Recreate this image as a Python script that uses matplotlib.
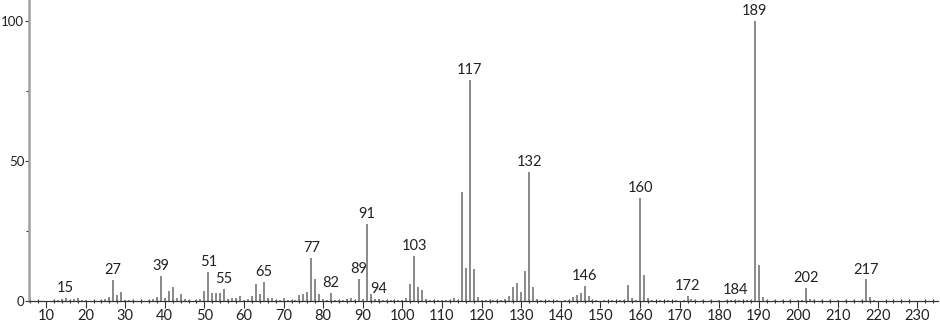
import matplotlib
matplotlib.use("Agg")
import matplotlib.pyplot as plt
from matplotlib.ticker import MultipleLocator, FixedLocator

plt.rcParams['font.family'] = ['Lato', 'DejaVu Sans']

# m/z values and relative intensities (%)
mz = [12, 13, 14, 15, 16, 17, 18, 19, 20, 24, 25, 26, 27, 28, 29, 30, 31, 32,
      36, 37, 38, 39, 40, 41, 42, 43, 44, 45, 46, 48, 49, 50, 51, 52, 53, 54,
      55, 56, 57, 58, 59, 60, 61, 62, 63, 64, 65, 66, 67, 68, 69, 70, 71, 72,
      73, 74, 75, 76, 77, 78, 79, 80, 81, 82, 83, 84, 85, 86, 87, 88, 89, 90,
      91, 92, 93, 94, 95, 96, 97, 98, 99, 100, 101, 102, 103, 104, 105, 106,
      107, 108, 109, 110, 111, 112, 113, 114, 115, 116, 117, 118, 119, 120,
      121, 122, 123, 124, 125, 126, 127, 128, 129, 130, 131, 132, 133, 134,
      135, 137, 139, 141, 142, 143, 144, 145, 146, 147, 148, 149, 151, 153,
      155, 156, 157, 158, 159, 160, 161, 162, 163, 165, 167, 169, 171, 172,
      173, 174, 176, 178, 180, 182, 183, 184, 185, 187, 188, 189, 190, 191,
      192, 194, 196, 198, 200, 201, 202, 203, 204, 206, 208, 210, 212, 214,
      216, 217, 218, 219]
intensity = [0.4, 0.5, 0.8, 1.0, 0.4, 0.6, 0.9, 0.3, 0.3, 0.4, 0.8, 1.5, 7.5, 2.3, 3.2, 0.4, 0.3, 0.5,
             0.4, 0.8, 1.3, 8.9, 1.1, 3.6, 5.1, 1.1, 2.5, 0.6, 0.3, 0.3, 0.8, 3.6, 10.5, 3.0, 3.0, 3.0,
             4.3, 0.8, 1.0, 1.0, 1.9, 0.4, 0.6, 1.9, 6.0, 2.4, 6.8, 1.0, 1.2, 0.4, 0.5, 1.2, 0.4, 0.3,
             0.5, 2.1, 2.4, 3.3, 15.5, 8.0, 2.4, 0.6, 0.5, 3.0, 0.5, 0.4, 0.5, 0.6, 1.2, 0.4, 8.0, 0.6,
             27.6, 2.5, 0.6, 0.8, 0.4, 0.4, 0.4, 0.3, 0.4, 0.4, 1.0, 6.2, 16.0, 5.0, 4.0, 0.6,
             0.5, 0.4, 0.4, 0.4, 0.4, 0.5, 1.0, 0.5, 39.0, 11.8, 79.0, 11.5, 1.5, 0.5,
             0.5, 0.4, 0.4, 0.4, 0.4, 0.6, 1.8, 5.0, 6.5, 3.3, 10.8, 46.2, 5.0, 0.6,
             0.3, 0.3, 0.3, 0.3, 0.5, 1.5, 2.1, 3.0, 5.4, 1.8, 0.5, 0.3, 0.3, 0.3,
             0.3, 0.4, 5.7, 1.2, 0.4, 36.7, 9.3, 1.0, 0.4, 0.3, 0.3, 0.3, 0.5, 1.8,
             0.6, 0.3, 0.3, 0.3, 0.3, 0.3, 0.3, 0.5, 0.3, 0.3, 0.4, 100.0, 12.9, 1.5,
             0.4, 0.3, 0.3, 0.3, 0.3, 0.4, 4.8, 0.6, 0.3, 0.3, 0.3, 0.3, 0.3, 0.3,
             0.4, 7.7, 1.3, 0.4]

labeled_mz = [15, 27, 39, 51, 55, 65, 77, 82, 89, 91, 94, 103, 117, 132, 146,
              160, 172, 184, 189, 202, 217]

y_ticks = [0, 50, 100]
x_ticks = list(range(10, 231, 10))

W, H = 940, 323
fig = plt.figure(figsize=(W / 100, H / 100), dpi=100)
ax = fig.add_axes([29 / W, 22 / H, (938 - 29) / W, 301 / H])

ax.vlines(mz, 0, intensity, colors='#808080', linewidth=1.3)

lookup = dict(zip(mz, intensity))
for m in labeled_mz:
    ax.annotate(str(m), xy=(m, lookup[m]), xytext=(0, 2), textcoords='offset points',
                ha='center', va='bottom', fontsize=10.5, color='#222222')

ax.set_xlim(5.71, 235.25)
ax.set_ylim(0, 107.5)

for s in ['top', 'right']:
    ax.spines[s].set_visible(False)
ax.spines['left'].set_color('#a0a0a0')
ax.spines['left'].set_linewidth(1.8)
ax.spines['bottom'].set_color('#333333')
ax.spines['bottom'].set_linewidth(0.9)

ax.set_yticks(y_ticks)
ax.set_yticklabels([str(v) for v in y_ticks])
ax.yaxis.set_minor_locator(FixedLocator([25, 75]))
ax.set_xticks(x_ticks)
ax.set_xticklabels([str(v) for v in x_ticks])
ax.xaxis.set_minor_locator(MultipleLocator(2))

ax.tick_params(axis='y', which='major', length=3, width=0.8, color='#333333',
               labelsize=9.5, labelcolor='#222222', pad=0.5)
ax.tick_params(axis='y', which='minor', length=2, width=0.8, color='#333333')
ax.tick_params(axis='x', which='major', length=5, width=0.8, color='#333333',
               labelsize=10.5, labelcolor='#222222', pad=1)
ax.tick_params(axis='x', which='minor', length=3, width=0.8, color='#333333',
               direction='inout')

fig.savefig('out.png', dpi=100)
